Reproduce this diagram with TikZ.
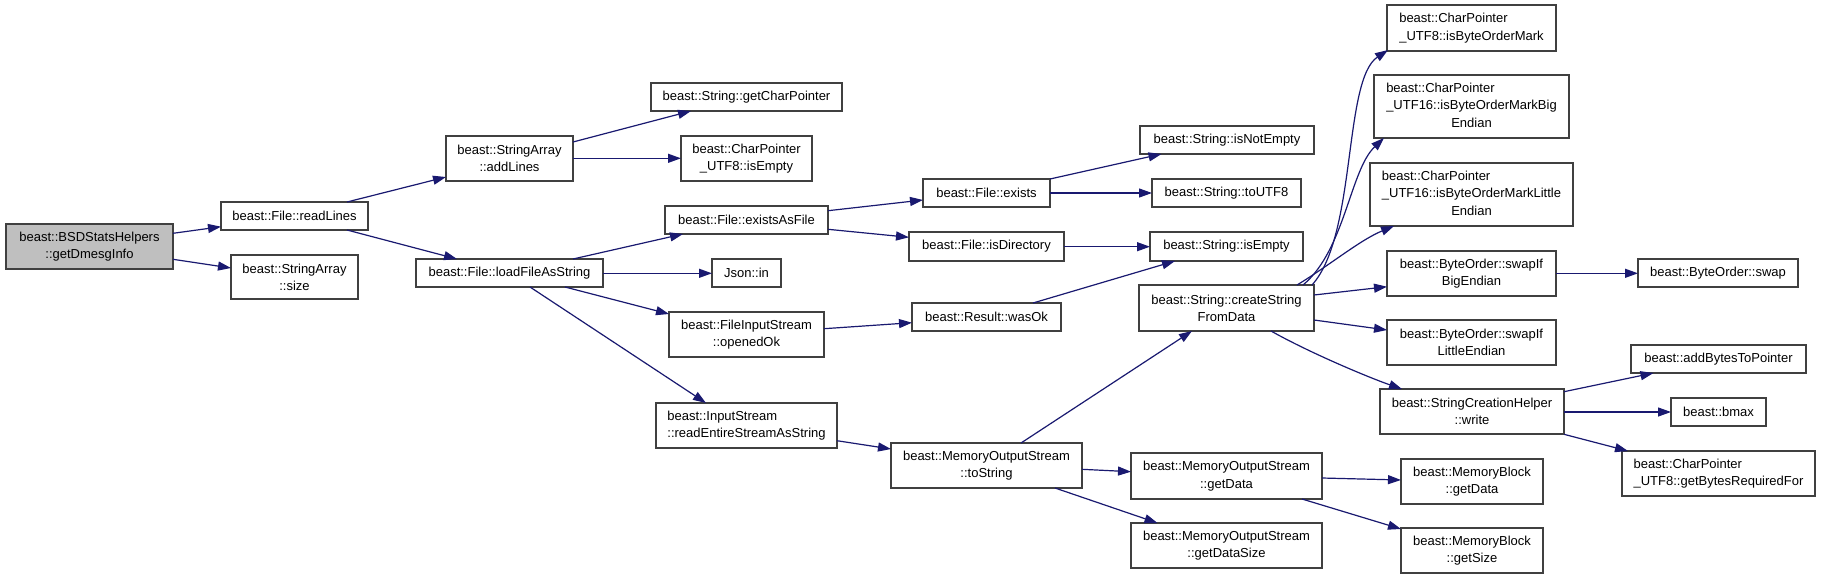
\documentclass[tikz,border=0pt]{standalone}
\usepackage{fontspec}
\setmainfont{Liberation Sans}
\usetikzlibrary{arrows.meta,calc}
\definecolor{mblue}{HTML}{191970}
\definecolor{rootgray}{HTML}{BFBFBF}
\definecolor{bordergray}{HTML}{404040}
\newcommand\bx[7][]{\node[box,#1,minimum width={#5-#3},minimum height={#6-#4}] (#2) at ({(#3+#5)/2},{(#4+#6)/2}) {#7};}
\newcommand\ltab[1]{\begin{tabular}{@{}l@{}}#1\end{tabular}}
\newcommand\clast[1]{\multicolumn{1}{@{}c@{}}{#1}}
\begin{document}
\begin{tikzpicture}[x=1pt,y=-1pt,
  box/.style={draw=bordergray,line width=1.2pt,fill=white,inner sep=0pt,outer sep=0pt,align=center,
    font=\fontsize{13}{17.3}\selectfont},
  cn/.style={draw=mblue,line width=1.2pt,-{Triangle[length=13pt,width=9pt,fill=mblue]}}]
\fill[white] (0,0) rectangle (1821,579);
\useasboundingbox (0,0) rectangle (1821,579);
% nodes
\bx[fill=rootgray]{A}{6}{224}{173}{269}{beast::BSDStatsHelpers\\::getDmesgInfo}
\bx{B}{221}{202}{368}{230}{beast::File::readLines}
\bx{C}{231}{255}{358}{299}{beast::StringArray\\::size}
\bx{D}{446}{136}{573}{181}{beast::StringArray\\::addLines}
\bx{E}{416}{259}{603}{287}{beast::File::loadFileAsString}
\bx{F}{651}{83}{842}{111}{beast::String::getCharPointer}
\bx{G}{681}{136}{812}{181}{beast::CharPointer\\\_UTF8::isEmpty}
\bx{H}{665}{206}{828}{234}{beast::File::existsAsFile}
\bx{I}{712}{259}{781}{287}{Json::in}
\bx{J}{669}{312}{824}{357}{beast::FileInputStream\\::openedOk}
\bx{K}{656}{403}{837}{448}{\ltab{beast::InputStream\\::readEntireStreamAsString}}
\bx{L}{923}{179}{1050}{207}{beast::File::exists}
\bx{M}{909}{232}{1064}{261}{beast::File::isDirectory}
\bx{N}{912}{303}{1061}{331}{beast::Result::wasOk}
\bx{O}{891}{443}{1082}{488}{beast::MemoryOutputStream\\::toString}
\bx{P}{1140}{126}{1314}{154}{beast::String::isNotEmpty}
\bx{Q}{1152}{179}{1301}{207}{beast::String::toUTF8}
\bx{R}{1150}{232}{1303}{261}{beast::String::isEmpty}
\bx{S}{1139}{285}{1314}{331}{beast::String::createString\\FromData}
\bx{T}{1131}{453}{1322}{499}{beast::MemoryOutputStream\\::getData}
\bx{U}{1131}{523}{1322}{568}{beast::MemoryOutputStream\\::getDataSize}
\bx{V}{1387}{5}{1556}{51}{\ltab{beast::CharPointer\\\_UTF8::isByteOrderMark}}
\bx{W}{1374}{75}{1569}{138}{\ltab{beast::CharPointer\\\_UTF16::isByteOrderMarkBig\\\clast{Endian}}}
\bx{X}{1370}{163}{1573}{226}{\ltab{beast::CharPointer\\\_UTF16::isByteOrderMarkLittle\\\clast{Endian}}}
\bx{Y}{1387}{251}{1556}{296}{beast::ByteOrder::swapIf\\BigEndian}
\bx{Z}{1387}{320}{1556}{365}{beast::ByteOrder::swapIf\\LittleEndian}
\bx{AA}{1380}{389}{1564}{434}{beast::StringCreationHelper\\::write}
\bx{AB}{1401}{459}{1543}{504}{beast::MemoryBlock\\::getData}
\bx{AC}{1401}{528}{1543}{573}{beast::MemoryBlock\\::getSize}
\bx{AD}{1638}{259}{1798}{287}{beast::ByteOrder::swap}
\bx{AE}{1631}{345}{1806}{373}{beast::addBytesToPointer}
\bx{AF}{1671}{398}{1766}{426}{beast::bmax}
\bx{AG}{1622}{451}{1815}{496}{\ltab{beast::CharPointer\\\_UTF8::getBytesRequiredFor}}
% connectors
\draw[cn] ($(A.north west)+(167,9.3)$) -- ($(B.north west)+(0,24.7)$);
\draw[cn] ($(A.north west)+(167,35.3)$) -- ($(C.north west)+(0,13)$);
\draw[cn] ($(B.north west)+(126,0)$) -- ($(D.north west)+(0,41)$);
\draw[cn] ($(B.north west)+(126,28)$) -- ($(E.north west)+(41,0)$);
\draw[cn] ($(D.north west)+(127,6)$) -- ($(F.north west)+(40,28)$);
\draw[cn] ($(D.north west)+(127,22.3)$) -- ($(G.north west)+(0,22.3)$);
\draw[cn] ($(E.north west)+(157,0)$) -- ($(H.north west)+(18,28)$);
\draw[cn] ($(E.north west)+(187,14.3)$) -- ($(I.north west)+(0,14.3)$);
\draw[cn] ($(E.north west)+(149,28)$) -- ($(J.north west)+(0,2)$);
\draw[cn] ($(E.north west)+(114,28)$) -- ($(K.north west)+(50,0)$);
\draw[cn] ($(H.north west)+(163,4.7)$) -- ($(L.north west)+(0,21)$);
\draw[cn] ($(H.north west)+(163,23.3)$) -- ($(M.north west)+(0,5.3)$);
\draw[cn] ($(L.north west)+(127,0)$) -- ($(P.north west)+(21.5,28)$);
\draw[cn] ($(L.north west)+(127,14)$) -- ($(Q.north west)+(0,14)$);
\draw[cn] ($(M.north west)+(155,14.7)$) -- ($(R.north west)+(0,14.7)$);
\draw[cn] ($(N.north west)+(121,0)$) -- ($(R.north west)+(25,29)$);
\draw[cn] ($(J.north west)+(155,16.7)$) -- ($(N.north west)+(0,19.7)$);
\draw[cn] ($(K.north west)+(181,37.7)$) -- ($(O.north west)+(0,6)$);
\draw[cn] ($(O.north west)+(130,0)$) -- ($(S.north west)+(53,46)$);
\draw[cn] ($(O.north west)+(191,26.3)$) -- ($(T.north west)+(0,18.7)$);
\draw[cn] ($(O.north west)+(164,45)$) -- ($(U.north west)+(26.5,0)$);
\draw[cn] ($(T.north west)+(191,25)$) -- ($(AB.north west)+(0,21)$);
\draw[cn] ($(T.north west)+(171,46)$) -- ($(AC.north west)+(0,1)$);
\draw[cn] ($(S.north west)+(173,0)$) .. controls +(45,-50) and +(-45,30) .. ($(V.north west)+(1,45)$);
\draw[cn] ($(S.north west)+(164,0)$) .. controls +(42,-35) and +(-34,32) .. ($(W.north west)+(10,63)$);
\draw[cn] ($(S.north west)+(158,0)$) .. controls +(33,-20) and +(-34,14) .. ($(X.north west)+(24,63)$);
\draw[cn] ($(S.north west)+(175,10)$) -- ($(Y.north west)+(0,35.7)$);
\draw[cn] ($(S.north west)+(175,35)$) -- ($(Z.north west)+(0,10)$);
\draw[cn] ($(S.north west)+(132,46)$) .. controls +(39,22) and +(-32,-11) .. ($(AA.north west)+(22,0)$);
\draw[cn] ($(Y.north west)+(169,22.3)$) -- ($(AD.north west)+(0,14.3)$);
\draw[cn] ($(AA.north west)+(184,2.7)$) -- ($(AE.north west)+(22.5,28)$);
\draw[cn] ($(AA.north west)+(184,23)$) -- ($(AF.north west)+(0,14)$);
\draw[cn] ($(AA.north west)+(184,45.3)$) -- ($(AG.north west)+(6,0)$);
\end{tikzpicture}
\end{document}
